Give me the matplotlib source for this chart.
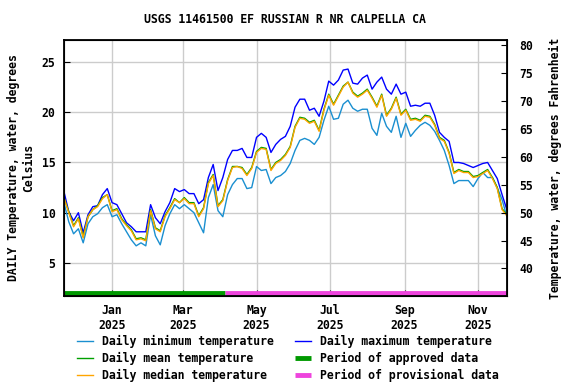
import pandas as pd
import matplotlib.pyplot as plt
import matplotlib.dates as mdates

# sample dates, every 4 days
dates = pd.date_range('2024-11-22', periods=93, freq='4D')

# daily minimum temperature, deg C
t_min = [11.0, 9.1, 7.9, 8.4, 7.0, 8.9, 9.6, 9.9, 10.5, 10.8,
         9.6, 9.8, 8.9, 8.1, 7.3, 6.7, 7.0, 6.7, 9.8, 7.7,
         6.8, 8.7, 9.9, 10.8, 10.4, 10.8, 10.4, 10.0, 9.0, 8.0,
         11.5, 12.8, 10.2, 9.6, 11.8, 12.8, 13.4, 13.4, 12.4, 12.5,
         14.6, 14.2, 14.3, 12.9, 13.5, 13.7, 14.1, 14.9, 16.2, 17.2,
         17.4, 17.2, 16.8, 17.5, 19.2, 20.6, 19.3, 19.4, 20.8, 21.2,
         20.4, 20.1, 20.3, 20.3, 18.4, 17.7, 19.9, 18.6, 18.0, 19.6,
         17.5, 18.9, 17.6, 18.2, 18.7, 19.0, 18.7, 18.1, 17.2, 16.2,
         14.7, 12.9, 13.2, 13.2, 13.2, 12.6, 13.4, 14.0, 13.5, 13.5,
         12.5, 11.3, 9.6]

# daily maximum temperature, deg C
t_max = [12.1, 10.1, 9.2, 10.0, 8.0, 9.8, 10.6, 10.7, 11.8, 12.4,
         11.0, 10.8, 9.9, 9.0, 8.6, 8.1, 8.1, 8.1, 10.8, 9.5,
         8.9, 10.1, 11.0, 12.4, 12.1, 12.3, 11.9, 11.9, 10.9, 11.3,
         13.5, 14.8, 12.2, 13.5, 15.3, 16.2, 16.2, 16.4, 15.5, 15.5,
         17.5, 17.9, 17.5, 16.0, 16.8, 17.3, 17.6, 18.6, 20.5, 21.3,
         21.3, 20.2, 20.4, 19.6, 21.1, 23.1, 22.7, 23.2, 24.2, 24.3,
         22.9, 22.8, 23.4, 23.7, 22.3, 23.0, 23.5, 22.3, 21.8, 22.8,
         21.8, 22.0, 20.6, 20.7, 20.6, 20.9, 20.9, 19.7, 18.0, 17.5,
         17.1, 15.0, 15.0, 14.9, 14.7, 14.5, 14.7, 14.9, 15.0, 14.2,
         13.4, 11.8, 10.3]

# daily mean temperature, deg C
t_mean = [11.5, 10.1, 8.7, 9.5, 7.6, 9.6, 10.3, 10.7, 11.5, 11.8,
          10.2, 10.4, 9.4, 8.8, 8.3, 7.4, 7.5, 7.3, 10.3, 8.5,
          8.2, 9.7, 10.5, 11.4, 11.0, 11.5, 11.0, 11.0, 9.7, 10.5,
          13.0, 13.8, 10.7, 11.3, 13.3, 14.6, 14.6, 14.5, 13.8, 14.5,
          16.1, 16.5, 16.4, 14.3, 15.0, 15.3, 15.8, 16.6, 18.6, 19.5,
          19.4, 19.0, 19.2, 18.2, 20.3, 21.8, 20.8, 21.7, 22.6, 23.0,
          22.0, 21.6, 21.9, 22.3, 21.5, 20.6, 21.8, 19.7, 20.4, 21.5,
          19.8, 20.3, 19.3, 19.4, 19.2, 19.7, 19.6, 18.8, 17.5, 17.2,
          16.0, 14.0, 14.3, 14.1, 14.1, 13.6, 13.7, 14.0, 14.3, 13.5,
          12.5, 10.4, 9.8]

# daily median temperature, deg C
t_median = [11.5, 10.0, 8.6, 9.4, 7.5, 9.6, 10.3, 10.6, 11.4, 11.8,
            10.1, 10.3, 9.3, 8.7, 8.2, 7.3, 7.4, 7.2, 10.2, 8.4,
            8.1, 9.6, 10.4, 11.3, 11.0, 11.4, 10.9, 10.9, 9.6, 10.4,
            12.9, 13.7, 10.6, 11.2, 13.2, 14.5, 14.6, 14.4, 13.7, 14.4,
            16.0, 16.4, 16.3, 14.2, 14.9, 15.2, 15.7, 16.5, 18.5, 19.4,
            19.3, 18.9, 19.1, 18.1, 20.2, 21.7, 20.7, 21.6, 22.5, 23.0,
            21.9, 21.5, 21.8, 22.2, 21.4, 20.5, 21.7, 19.6, 20.3, 21.4,
            19.7, 20.2, 19.2, 19.3, 19.1, 19.6, 19.5, 18.7, 17.4, 17.1,
            15.9, 13.9, 14.2, 14.0, 14.0, 13.5, 13.6, 13.9, 14.2, 13.4,
            12.4, 10.3, 9.7]

# approval periods
approved = ['2024-11-22', '2025-04-05']
provisional = ['2025-04-05', '2025-11-25']

x_start = pd.Timestamp('2024-11-22')
x_end = pd.Timestamp('2025-11-25')
c_lo, c_hi = 1.7, 27.2

plt.rcParams['font.family'] = 'DejaVu Sans Mono'
plt.rcParams['font.weight'] = 'bold'
plt.rcParams['axes.titleweight'] = 'bold'
plt.rcParams['axes.labelweight'] = 'bold'

fig = plt.figure(figsize=(5.76, 3.84), dpi=100)
ax = fig.add_axes([0.111, 0.229, 0.769, 0.667])

l_min, = ax.plot(dates, t_min, color='#1a8fd0', lw=1, label='Daily minimum temperature')
l_max, = ax.plot(dates, t_max, color='#0000ff', lw=1, label='Daily maximum temperature')
l_mean, = ax.plot(dates, t_mean, color='#00a000', lw=1, label='Daily mean temperature')
l_med, = ax.plot(dates, t_median, color='#ffa500', lw=1, label='Daily median temperature')

# approval status bars along the bottom
bar_y = 2.0
p_app, = ax.plot(pd.to_datetime(approved), [bar_y, bar_y], color='#009900', lw=3.5,
                 solid_capstyle='butt', label='Period of approved data')
p_prov, = ax.plot(pd.to_datetime(provisional), [bar_y, bar_y], color='#ee44dd', lw=3.5,
                  solid_capstyle='butt', label='Period of provisional data')

ax.set_xlim(x_start, x_end)
ax.set_ylim(c_lo, c_hi)
ax.set_yticks([5, 10, 15, 20, 25])
ax.xaxis.set_major_locator(mdates.MonthLocator(bymonth=[1, 3, 5, 7, 9, 11]))
ax.xaxis.set_major_formatter(mdates.DateFormatter('%b\n%Y'))
ax.grid(True, color='#cccccc', lw=1)
ax.set_axisbelow(True)
ax.tick_params(direction='in', length=4, labelsize=8.3, pad=6)
for lab in ax.get_xticklabels() + ax.get_yticklabels():
    lab.set_fontweight('bold')
for s in ax.spines.values():
    s.set_linewidth(1.3)
ax.set_ylabel('DAILY Temperature, water, degrees\nCelsius', fontsize=8.3,
              fontweight='bold', labelpad=5)

# fahrenheit axis on the right
ax2 = ax.twinx()
ax2.set_ylim(c_lo * 1.8 + 32, c_hi * 1.8 + 32)
ax2.set_yticks([40, 45, 50, 55, 60, 65, 70, 75, 80])
ax2.tick_params(direction='in', length=4, labelsize=8.3, pad=9)
for lab in ax2.get_yticklabels():
    lab.set_fontweight('bold')
ax2.set_ylabel('Temperature, water, degrees Fahrenheit', fontsize=8.3,
               fontweight='bold', labelpad=11)

ax.set_title('USGS 11461500 EF RUSSIAN R NR CALPELLA CA', fontsize=8.3,
             fontweight='bold', pad=12)

handles = [l_min, l_mean, l_med, l_max, p_app, p_prov]
leg = fig.legend(handles, [h.get_label() for h in handles],
                 loc='lower center', bbox_to_anchor=(0.5, -0.022), ncol=2, frameon=False,
                 prop={'size': 8.3, 'weight': 'bold'}, handlelength=1.4,
                 columnspacing=1.8, labelspacing=0.35)

fig.savefig('out.png', dpi=100)
